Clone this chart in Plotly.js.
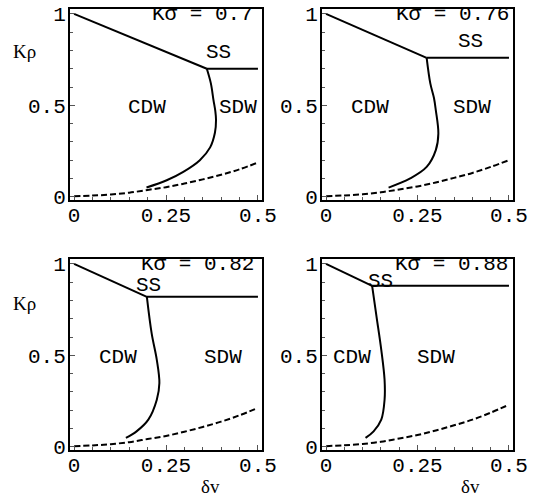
<!DOCTYPE html>
<html>
<head>
<meta charset="utf-8">
<script src="https://cdn.plot.ly/plotly-3.0.1.min.js"></script>
<style>html,body{margin:0;padding:0;background:#fff;}#chart{width:540px;height:503px;}</style>
</head>
<body>
<div id="chart"></div>
<script>
// ---- data ----
const ksigma = [0.7, 0.76, 0.82, 0.88];
const ksigmaLabels = ["K\u03c3 = 0.7", "K\u03c3 = 0.76", "K\u03c3 = 0.82", "K\u03c3 = 0.88"];
// cusp (triple point) positions
const cuspX = [0.361, 0.275, 0.198, 0.126];
const cuspY = [0.70, 0.76, 0.82, 0.88];
// CDW/SDW boundary curves
const bndX1 = [0.361, 0.372, 0.379, 0.384, 0.386, 0.383, 0.370, 0.342, 0.297, 0.252, 0.197];
const bndY1 = [0.70, 0.62, 0.53, 0.47, 0.42, 0.35, 0.27, 0.20, 0.136, 0.09, 0.05];
const bndX2 = [0.275, 0.285, 0.295, 0.300, 0.307, 0.300, 0.275, 0.230, 0.171];
const bndY2 = [0.76, 0.62, 0.54, 0.474, 0.346, 0.255, 0.163, 0.10, 0.05];
const bndX3 = [0.198, 0.211, 0.225, 0.232, 0.225, 0.202, 0.170, 0.141];
const bndY3 = [0.82, 0.62, 0.475, 0.348, 0.257, 0.148, 0.084, 0.048];
const bndX4 = [0.126, 0.138, 0.151, 0.160, 0.160, 0.151, 0.130, 0.108];
const bndY4 = [0.88, 0.712, 0.53, 0.366, 0.257, 0.148, 0.084, 0.048];
// dashed curves
const dashX = [0, 0.05, 0.1, 0.15, 0.2, 0.25, 0.3, 0.35, 0.4, 0.45, 0.5];
const dashY1 = [0.003, 0.006, 0.012, 0.022, 0.037, 0.052, 0.072, 0.095, 0.12, 0.15, 0.187];
const dashY2 = [0.003, 0.007, 0.013, 0.024, 0.040, 0.056, 0.078, 0.103, 0.13, 0.163, 0.20];
const dashY3 = [0.003, 0.007, 0.014, 0.025, 0.042, 0.059, 0.082, 0.108, 0.137, 0.172, 0.212];
const dashY4 = [0.003, 0.008, 0.015, 0.027, 0.045, 0.064, 0.089, 0.117, 0.148, 0.186, 0.23];
// region label positions
const ssPos = [[0.393, 0.79], [0.395, 0.848], [0.202, 0.88], [0.149, 0.903]];
const cdwPos = [[0.197, 0.49], [0.119, 0.49], [0.12, 0.49], [0.07, 0.49]];
const sdwPos = [[0.446, 0.49], [0.40, 0.49], [0.404, 0.49], [0.30, 0.49]];
const ksPos = [[0.35, 0.995], [0.346, 0.995], [0.336, 0.995], [0.344, 0.995]];
const xTicks = [0, 0.25, 0.5];
const xTickText = ["0", "0.25", "0.5"];
const yTicks = [0, 0.5, 1];
const yTickText = ["0", "0.5", "1"];

const bndX = [bndX1, bndX2, bndX3, bndX4];
const bndY = [bndY1, bndY2, bndY3, bndY4];
const dashY = [dashY1, dashY2, dashY3, dashY4];

const mono = "Liberation Mono, Courier New, monospace";
const serif = "Liberation Serif, Times New Roman, serif";

const traces = [];
const annotations = [];
for (let i = 0; i < 4; i++) {
  const sx = i === 0 ? "x" : "x" + (i + 1);
  const sy = i === 0 ? "y" : "y" + (i + 1);
  traces.push({x: [0, cuspX[i]], y: [1, cuspY[i]], xaxis: sx, yaxis: sy, mode: "lines",
    line: {color: "black", width: 2}, hoverinfo: "skip"});
  traces.push({x: [cuspX[i], 0.5], y: [cuspY[i], ksigma[i]], xaxis: sx, yaxis: sy, mode: "lines",
    line: {color: "black", width: 2}, hoverinfo: "skip"});
  traces.push({x: bndX[i], y: bndY[i], xaxis: sx, yaxis: sy, mode: "lines",
    line: {color: "black", width: 2, shape: "spline"}, hoverinfo: "skip"});
  traces.push({x: dashX, y: dashY[i], xaxis: sx, yaxis: sy, mode: "lines",
    line: {color: "black", width: 2, dash: "6px,3px", shape: "spline"}, hoverinfo: "skip"});
  const f = {family: mono, size: 21, color: "black"};
  const c = {showarrow: false, font: f, xanchor: "center", yanchor: "middle", xref: sx, yref: sy};
  annotations.push(Object.assign({x: ssPos[i][0], y: ssPos[i][1], text: "SS"}, c));
  annotations.push(Object.assign({x: cdwPos[i][0], y: cdwPos[i][1], text: "CDW"}, c));
  annotations.push(Object.assign({x: sdwPos[i][0], y: sdwPos[i][1], text: "SDW"}, c));
  annotations.push(Object.assign({x: ksPos[i][0], y: ksPos[i][1], text: ksigmaLabels[i]}, c));
}
// axis labels
const kr = {family: serif, size: 19, color: "black"};
const pc = {xref: "paper", yref: "paper", showarrow: false, font: kr, xanchor: "center", yanchor: "middle"};
annotations.push(Object.assign({x: 24 / 540, y: 1 - 52 / 503, text: "K\u03c1"}, pc));
annotations.push(Object.assign({x: 24 / 540, y: 1 - 303 / 503, text: "K\u03c1"}, pc));
annotations.push(Object.assign({x: 210 / 540, y: 1 - 486 / 503, text: "\u03b4v"}, pc));
annotations.push(Object.assign({x: 470 / 540, y: 1 - 486 / 503, text: "\u03b4v"}, pc));

function xa(dom, anchor) {
  return {domain: dom, anchor: anchor, range: [-0.011, 0.511], showgrid: false, zeroline: false,
    showline: true, mirror: true, linecolor: "black", linewidth: 2,
    ticks: "inside", ticklen: 5, tickwidth: 1, tickcolor: "#555", ticklabelstandoff: -5,
    tickvals: xTicks, ticktext: xTickText, tickfont: {family: mono, size: 21, color: "black"},
    minor: {dtick: 0.05, tick0: 0, ticks: "inside", ticklen: 3, tickcolor: "#555", tickwidth: 1, showgrid: false}};
}
function ya(dom, anchor) {
  return {domain: dom, anchor: anchor, range: [-0.018, 1.027], showgrid: false, zeroline: false,
    showline: true, mirror: true, linecolor: "black", linewidth: 2,
    ticks: "inside", ticklen: 5, tickwidth: 1, tickcolor: "#555", ticklabelstandoff: -2,
    tickvals: yTicks, ticktext: yTickText, tickfont: {family: mono, size: 21, color: "black"},
    minor: {dtick: 0.1, tick0: 0, ticks: "inside", ticklen: 3, tickcolor: "#555", tickwidth: 1, showgrid: false}};
}
const dL = [70 / 540, 262 / 540], dR = [322 / 540, 513 / 540];
const dT = [1 - 200 / 503, 1 - 9 / 503], dB = [1 - 450 / 503, 1 - 259 / 503];

const layout = {
  width: 540, height: 503, margin: {l: 0, r: 0, t: 0, b: 0},
  paper_bgcolor: "white", plot_bgcolor: "white", showlegend: false,
  xaxis: xa(dL, "y"), yaxis: ya(dT, "x"),
  xaxis2: xa(dR, "y2"), yaxis2: ya(dT, "x2"),
  xaxis3: xa(dL, "y3"), yaxis3: ya(dB, "x3"),
  xaxis4: xa(dR, "y4"), yaxis4: ya(dB, "x4"),
  annotations: annotations
};
Plotly.newPlot("chart", traces, layout, {staticPlot: true, displayModeBar: false});
</script>
</body>
</html>
